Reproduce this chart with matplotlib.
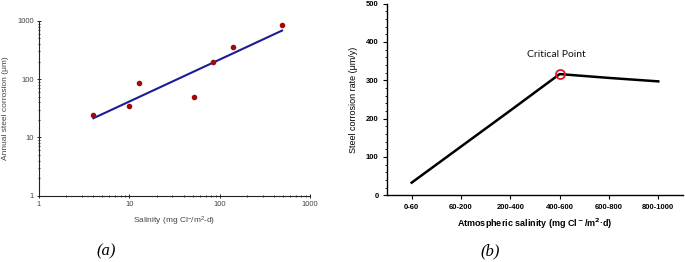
import numpy as np
import matplotlib
matplotlib.use('Agg')
import matplotlib.pyplot as plt
from matplotlib.ticker import LogLocator, NullFormatter, MultipleLocator

# (a) annual corrosion vs salinity, log-log
sal_x = [3.96, 9.9, 12.9, 51.6, 85.2, 139.6, 487]
corr_y = [24.4, 35.2, 85, 50.3, 200, 363, 857]
fit_x = [4.0, 490]
fit_y = [21.4, 684]

# (b) corrosion rate by salinity class
classes = ['0-60', '60-200', '200-400', '400-600', '600-800', '800-1000']
rate = [33, 127, 221, 316, 306, 297]
critical_idx = 3

plt.rcParams['font.family'] = ['Liberation Sans', 'DejaVu Sans']
plt.rcParams['mathtext.default'] = 'regular'

fig = plt.figure(figsize=(6.85, 2.62), dpi=100)

# ---- panel (a)
gray = '#444444'
ax1 = fig.add_axes([0.057, 0.253, 0.3956, 0.667])
ax1.set_xscale('log')
ax1.set_yscale('log')
ax1.plot(fit_x, fit_y, color='#1c1c96', lw=1.5, zorder=2)
ax1.plot(sal_x, corr_y, 'o', color='#9e0b0b', ms=3, zorder=3)
ax1.set_xlim(1, 1000)
ax1.set_ylim(1, 1000)
for s in ['top', 'right']:
    ax1.spines[s].set_visible(False)
for s in ['left', 'bottom']:
    ax1.spines[s].set_color('#222222')
    ax1.spines[s].set_linewidth(0.8)
ax1.xaxis.set_minor_locator(LogLocator(base=10, subs=np.arange(2, 10)))
ax1.yaxis.set_minor_locator(LogLocator(base=10, subs=np.arange(2, 10)))
ax1.xaxis.set_minor_formatter(NullFormatter())
ax1.yaxis.set_minor_formatter(NullFormatter())
ax1.set_xticks([1, 10, 100, 1000])
ax1.set_xticklabels(['1', '10', '100', '1000'])
ax1.set_yticks([1, 10, 100, 1000])
ax1.set_yticklabels(['1', '10', '100', '1000'])
ax1.tick_params(which='major', direction='inout', length=3, width=0.7,
                labelsize=5.5, labelcolor=gray, color='#222222', pad=2)
ax1.tick_params(which='minor', direction='inout', length=2, width=0.6, color='#222222')
ax1.set_xlabel('Salinity (mg Cl$^{-}$/m$^{2}$-d)', fontsize=6, color=gray, labelpad=5)
ax1.set_ylabel('Annual steel corrosion (\u03bcm)', fontsize=6, color=gray, labelpad=6)

# ---- panel (b)
ax2 = fig.add_axes([0.565, 0.2546, 0.432, 0.732])
xpos = np.arange(len(classes))
ax2.plot(xpos, rate, color='black', lw=1.8, zorder=2)
ax2.plot(xpos[critical_idx], rate[critical_idx], 'o', ms=6.5, mfc='none',
         mec='#e8141b', mew=1.3, zorder=3)
ax2.text(xpos[critical_idx] - 0.07, 355, 'Critical Point', family=['Lato', 'DejaVu Sans'],
         fontsize=7.5, ha='center', va='bottom', color='#111111')
ax2.set_xlim(-0.5, len(classes) - 0.5)
ax2.set_ylim(0, 500)
ax2.set_xticks(xpos)
ax2.set_xticklabels(classes)
ax2.yaxis.set_major_locator(MultipleLocator(100))
ax2.yaxis.set_minor_locator(MultipleLocator(20))
for s in ['top', 'right']:
    ax2.spines[s].set_visible(False)
for s in ['left', 'bottom']:
    ax2.spines[s].set_linewidth(1.0)
ax2.tick_params(which='major', direction='out', length=3, width=0.8,
                labelsize=5.5, pad=3)
for lab in ax2.get_xticklabels() + ax2.get_yticklabels():
    lab.set_fontweight('bold')
ax2.tick_params(which='minor', direction='out', length=1.8, width=0.6)
ax2.tick_params(axis='x', which='minor', length=0)
ax2.set_xlabel('Atmospheric salinity (mg Cl$^{\\bf -}$/m$^{\\bf 2}$\u00b7d)', fontsize=6.5,
               fontweight='bold', labelpad=4)
ax2.set_ylabel('Steel corrosion rate (\u03bcm/y)', fontsize=6.5, labelpad=6)

# panel captions
fig.text(0.155, 0.04, '(a)', family=['Liberation Serif'], style='italic',
         fontsize=12, ha='center', va='center')
fig.text(0.715, 0.04, '(b)', family=['Liberation Serif'], style='italic',
         fontsize=12, ha='center', va='center')

fig.savefig('out.png', dpi=100)
